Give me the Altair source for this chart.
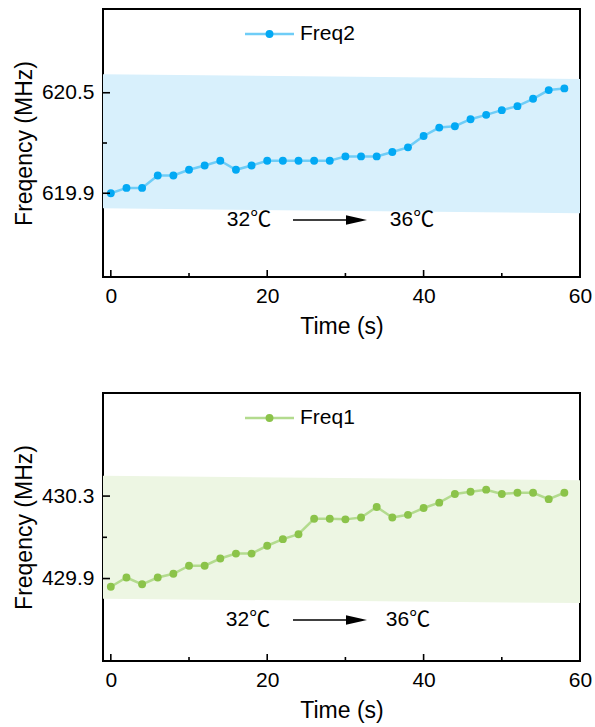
import altair as alt
import pandas as pd

# Sampling times (s) and measured resonant frequencies (MHz)
time_s = list(range(0, 60, 2))
freq2_mhz = [619.900, 619.932, 619.932, 620.006, 620.006, 620.040, 620.066, 620.094, 620.040, 620.066,
             620.094, 620.094, 620.094, 620.094, 620.094, 620.120, 620.120, 620.120, 620.146, 620.174,
             620.242, 620.292, 620.300, 620.342, 620.368, 620.396, 620.420, 620.464, 620.516, 620.526]
freq1_mhz = [429.860, 429.905, 429.872, 429.905, 429.923, 429.962, 429.962, 429.997, 430.021, 430.021,
             430.059, 430.091, 430.115, 430.190, 430.190, 430.187, 430.196, 430.247, 430.196, 430.209,
             430.242, 430.268, 430.310, 430.321, 430.331, 430.310, 430.316, 430.316, 430.285, 430.316]

# Shaded drift bands (start / end of the time range)
band_time = [-1, 60]
freq2_band_hi = [620.610, 620.582]
freq2_band_lo = [619.810, 619.780]
freq1_band_hi = [430.398, 430.377]
freq1_band_lo = [429.802, 429.781]

# Axis ticks
x_major = [0, 20, 40, 60]
x_minor = [10, 30, 50]
freq2_major = [619.9, 620.5]
freq2_minor = [620.2]
freq1_major = [429.9, 430.3]
freq1_minor = [430.1]

W, H = 477, 268
FONT = "Liberation Sans"
FONT_C = "Liberation Sans, Noto Sans CJK SC"


def panel(freqs, band_hi, band_lo, y_domain, y_major, y_minor, label,
          pt_color, line_color, band_color, ann_y, ann_x):
    xs = alt.Scale(domain=[-1, 60], nice=False, zero=False)
    ys = alt.Scale(domain=y_domain, nice=False, zero=False)
    x_axis = alt.Axis(values=x_major, tickSize=0, domain=False, grid=False,
                      labelFont=FONT, labelFontSize=21, labelColor="black",
                      labelPadding=8, labelFlush=False,
                      title="Time (s)", titleFont=FONT, titleFontSize=23,
                      titleFontWeight="normal", titleColor="black", titlePadding=9)
    y_axis = alt.Axis(values=y_major, format=".1f", tickSize=0, domain=False, grid=False,
                      labelFont=FONT, labelFontSize=21, labelColor="black",
                      labelPadding=9, labelFlush=False,
                      title="Freqency (MHz)", titleFont=FONT, titleFontSize=23,
                      titleFontWeight="normal", titleColor="black", titlePadding=5)

    band_df = pd.DataFrame({"t": band_time, "hi": band_hi, "lo": band_lo})
    data_df = pd.DataFrame({"t": time_s, "f": freqs})

    band = alt.Chart(band_df).mark_area(color=band_color, opacity=1).encode(
        x=alt.X("t:Q", scale=xs, axis=x_axis),
        y=alt.Y("hi:Q", scale=ys, axis=y_axis),
        y2="lo:Q",
    )
    line = alt.Chart(data_df).mark_line(color=line_color, strokeWidth=2.5).encode(
        x=alt.X("t:Q", scale=xs, axis=x_axis),
        y=alt.Y("f:Q", scale=ys, axis=y_axis),
    )
    pts = alt.Chart(data_df).mark_circle(color=pt_color, size=62, opacity=1).encode(
        x=alt.X("t:Q", scale=xs, axis=x_axis),
        y=alt.Y("f:Q", scale=ys, axis=y_axis),
    )

    # inward tick marks
    xt_major = alt.Chart(pd.DataFrame({"v": x_major})).mark_rule(color="black", strokeWidth=1.6).encode(
        x=alt.X("v:Q", scale=xs, axis=x_axis), y=alt.value(H), y2=alt.value(H - 7))
    xt_minor = alt.Chart(pd.DataFrame({"v": x_minor})).mark_rule(color="black", strokeWidth=1.6).encode(
        x=alt.X("v:Q", scale=xs, axis=x_axis), y=alt.value(H), y2=alt.value(H - 4))
    yt_major = alt.Chart(pd.DataFrame({"v": y_major})).mark_rule(color="black", strokeWidth=1.6).encode(
        y=alt.Y("v:Q", scale=ys, axis=y_axis), x=alt.value(0), x2=alt.value(7))
    yt_minor = alt.Chart(pd.DataFrame({"v": y_minor})).mark_rule(color="black", strokeWidth=1.6).encode(
        y=alt.Y("v:Q", scale=ys, axis=y_axis), x=alt.value(0), x2=alt.value(4))

    one = alt.Chart(pd.DataFrame({"k": [label]}))
    # legend entry
    leg_line = one.mark_rule(color=line_color, strokeWidth=2.5).encode(
        x=alt.value(142), x2=alt.value(191), y=alt.value(25))
    leg_pt = one.mark_circle(color=pt_color, size=62, opacity=1).encode(
        x=alt.value(166.5), y=alt.value(25))
    leg_txt = one.mark_text(align="left", baseline="middle", font=FONT, fontSize=21,
                            color="black").encode(x=alt.value(197), y=alt.value(25), text="k:N")

    # temperature annotation
    t_lo = one.mark_text(align="center", baseline="middle", font=FONT_C, fontSize=21,
                         color="black").encode(x=alt.value(ann_x[0]), y=alt.value(ann_y),
                                               text=alt.value("32℃"))
    t_hi = one.mark_text(align="center", baseline="middle", font=FONT_C, fontSize=21,
                         color="black").encode(x=alt.value(ann_x[1]), y=alt.value(ann_y),
                                               text=alt.value("36℃"))
    arrow_shaft = one.mark_rule(color="black", strokeWidth=1.5).encode(
        x=alt.value(190), x2=alt.value(246), y=alt.value(ann_y))
    arrow_head = one.mark_point(shape="M-1,-0.45L1,0L-1,0.45Z", filled=True, color="black",
                                size=441, opacity=1, strokeWidth=0).encode(
        x=alt.value(253.5), y=alt.value(ann_y))

    return alt.layer(band, line, pts, xt_major, xt_minor, yt_major, yt_minor,
                     leg_line, leg_pt, leg_txt, t_lo, t_hi, arrow_shaft, arrow_head
                     ).properties(width=W, height=H)


top = panel(freq2_mhz, freq2_band_hi, freq2_band_lo, [619.4, 621.0], freq2_major, freq2_minor,
            "Freq2", "#03A9F4", "#6FCDF7", "#D8F0FC", 211, (146, 309))
bottom = panel(freq1_mhz, freq1_band_hi, freq1_band_lo, [429.5, 430.8], freq1_major, freq1_minor,
               "Freq1", "#8BC34A", "#B3DB8E", "#EDF6E3", 227, (145, 305))

chart = alt.vconcat(top, bottom, spacing=53).properties(
    padding={"left": 12, "top": 8, "right": 0, "bottom": 0},
    background="white",
).configure_view(stroke="black", strokeWidth=2)

chart.save("out.html", embed_options={"renderer": "svg", "actions": False})
